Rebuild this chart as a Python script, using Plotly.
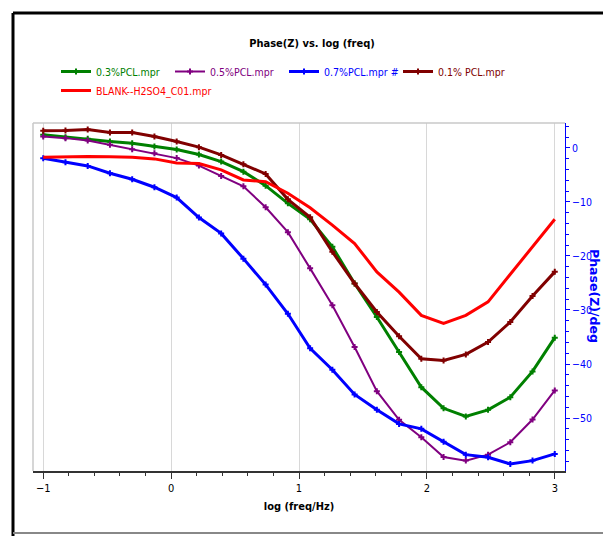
import numpy as np
import plotly.graph_objects as go

# log10(freq/Hz) sample points (24 points, equally spaced in log)
log_freq = list(np.linspace(-1, 3, 24))

phase_03 = [2.41, 1.98, 1.67, 1.17, 0.87, 0.24, -0.3, -1.24, -2.54, -4.4, -7.0, -10.27,
            -13.23, -18.31, -25.1, -31.3, -37.79, -44.29, -48.2, -49.72, -48.48, -46.14, -41.37, -35.12]
phase_05 = [2.1, 1.8, 1.35, 0.56, -0.24, -0.98, -1.9, -3.28, -5.19, -7.1, -11.0, -15.6,
            -22.3, -29.13, -36.86, -45.03, -50.33, -53.56, -57.2, -57.88, -56.77, -54.49, -50.28, -44.9]
phase_07 = [-1.91, -2.65, -3.34, -4.69, -5.81, -7.29, -9.2, -12.9, -15.83, -20.5, -25.3, -30.7,
            -37.1, -41.06, -45.64, -48.48, -51.08, -52.0, -54.4, -56.77, -57.27, -58.5, -57.88, -56.64]
phase_01 = [3.15, 3.2, 3.4, 2.84, 2.84, 2.1, 1.17, 0.13, -1.3, -3.02, -4.82, -9.52,
            -12.86, -19.24, -25.1, -30.37, -34.88, -39.02, -39.33, -38.22, -35.94, -32.23, -27.4, -22.95]
phase_blank = [-1.73, -1.6, -1.6, -1.65, -1.73, -2.04, -2.8, -2.9, -4.08, -5.94, -6.25, -8.4,
               -11.1, -14.3, -17.7, -22.95, -26.7, -31.0, -32.5, -31.0, -28.5, -23.4, -18.3, -13.2]

series = [
    ("0.3%PCL.mpr", phase_03, "#008000", 3, True),
    ("0.5%PCL.mpr", phase_05, "#800080", 2, True),
    ("0.7%PCL.mpr #", phase_07, "#0000FF", 3, True),
    ("0.1% PCL.mpr", phase_01, "#800000", 3, True),
    ("BLANK--H2SO4_C01.mpr", phase_blank, "#FF0000", 3, False),
]

FONT = "DejaVu Sans Condensed, Liberation Sans Narrow, Arial Narrow, Liberation Sans, sans-serif"

fig = go.Figure()
for name, vals, color, width, markers in series:
    fig.add_trace(go.Scatter(
        x=log_freq, y=vals,
        mode="lines+markers" if markers else "lines",
        name=f"<span style='color:{color}'>{name}</span>",
        line=dict(color=color, width=width),
        marker=dict(symbol="cross", size=5, color=color),
    ))

# plot area in px: left 33, right 565, top 123, bottom 471
L, R, T, B = 33, 565, 123, 471
W, H = 603, 536
pw, ph = R - L, B - T

def px_x(x):
    return (x - L) / pw

def px_y(y):
    return (B - y) / ph

shapes = [
    # plot area top & left light border
    dict(type="line", xref="paper", yref="paper", x0=0, x1=1, y0=1, y1=1,
         line=dict(color="#c8c8c8", width=1.5)),
    dict(type="line", xref="paper", yref="paper", x0=0, x1=0, y0=0, y1=1,
         line=dict(color="#c8c8c8", width=1.5)),
    # outer frame
    dict(type="line", xref="paper", yref="paper", x0=px_x(13), x1=px_x(620),
         y0=px_y(13), y1=px_y(13), line=dict(color="black", width=3)),
    dict(type="line", xref="paper", yref="paper", x0=px_x(13), x1=px_x(13),
         y0=px_y(13), y1=px_y(540), line=dict(color="black", width=3)),
    dict(type="line", xref="paper", yref="paper", x0=px_x(13), x1=px_x(620),
         y0=px_y(533), y1=px_y(533), line=dict(color="#888888", width=2)),
]

fig.update_layout(
    width=W, height=H,
    margin=dict(l=L, r=W - R, t=T, b=H - B, autoexpand=False),
    paper_bgcolor="white", plot_bgcolor="white",
    font=dict(family=FONT, size=11, color="black"),
    title=dict(text="<b>Phase(Z) vs. log (freq)</b>", x=312 / W,
               xanchor="center", y=1 - 43 / H, yanchor="middle",
               font=dict(family=FONT, size=11, color="black")),
    showlegend=True,
    legend=dict(orientation="h", x=px_x(56), y=px_y(57), xanchor="left", yanchor="top",
                entrywidth=69, entrywidthmode="pixels", itemwidth=30,
                font=dict(family=FONT, size=10.5), bgcolor="rgba(0,0,0,0)",
                tracegroupgap=0, traceorder="normal"),
    shapes=shapes,
    annotations=[
        dict(text="<b>Phase(Z)/deg</b>", xref="paper", yref="paper",
             x=px_x(595), y=px_y(296), xanchor="center", yanchor="middle",
             textangle=90, showarrow=False,
             font=dict(family="DejaVu Sans, Liberation Sans, sans-serif", size=12.5, color="#0000FF")),
    ],
)

fig.update_xaxes(
    range=[-1.08, 3.08], tickvals=[-1, 0, 1, 2, 3],
    showgrid=True, gridcolor="#d8d8d8", gridwidth=1, zeroline=False,
    showline=True, linecolor="#333333", linewidth=2,
    ticks="outside", ticklen=6, tickcolor="#333333", tickwidth=1,
    minor=dict(dtick=0.2, tick0=0, ticks="outside", ticklen=3, tickcolor="#333333", showgrid=False),
    tickfont=dict(family=FONT, size=11, color="black"),
    title=dict(text="<b>log (freq/Hz)</b>", standoff=8,
               font=dict(family=FONT, size=11, color="black")),
)
fig.update_yaxes(
    side="right", range=[-59.8, 4.6], tickvals=[0, -10, -20, -30, -40, -50],
    showgrid=False, zeroline=False,
    showline=True, linecolor="#0000FF", linewidth=1,
    ticks="outside", ticklen=4, tickcolor="#0000FF", tickwidth=1,
    minor=dict(dtick=2, tick0=0, ticks="outside", ticklen=3, tickcolor="#0000FF", showgrid=False),
    tickfont=dict(family=FONT, size=10.5, color="#0000FF"),
)

fig.write_html("out.html")
